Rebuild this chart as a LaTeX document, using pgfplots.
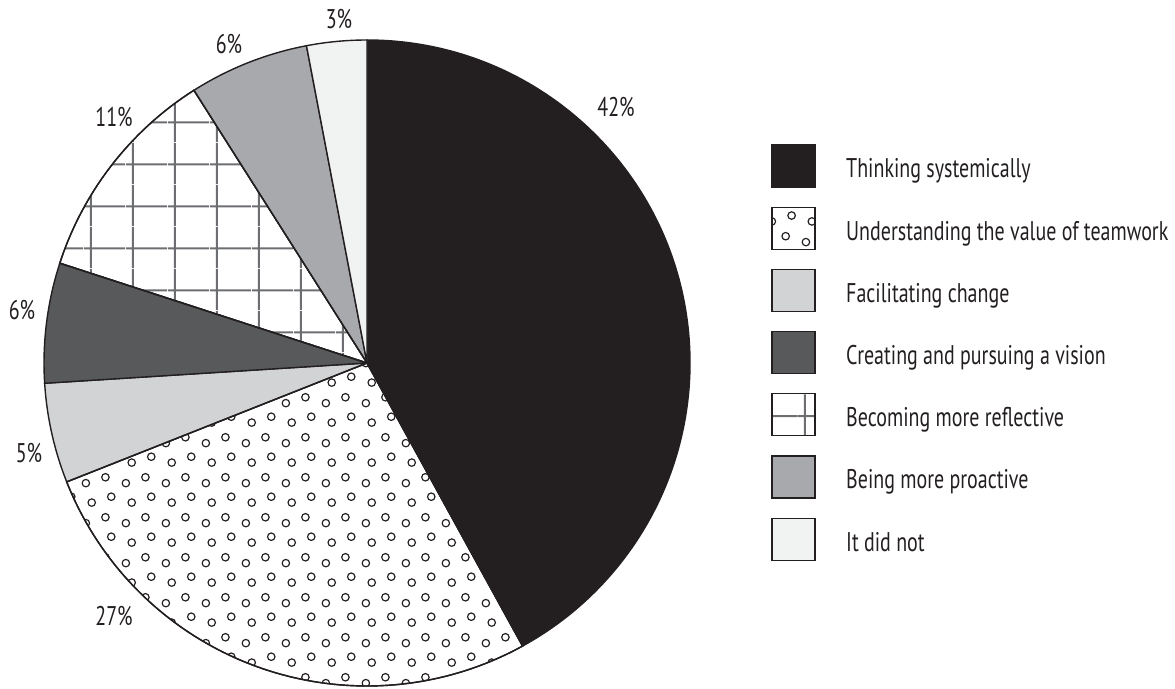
\documentclass[border=0pt]{standalone}
\usepackage{fontspec}
\setmainfont{PT Sans}[FakeStretch=0.74]
\usepackage{pgfplots}
\pgfplotsset{compat=1.18}
\usetikzlibrary{patterns}

\definecolor{ink}{HTML}{231F20}
\definecolor{cThink}{HTML}{231F20}
\definecolor{cFacil}{HTML}{D1D3D4}
\definecolor{cVision}{HTML}{58595B}
\definecolor{cProact}{HTML}{A7A9AC}
\definecolor{cNot}{HTML}{F1F2F2}
\definecolor{gridgray}{HTML}{6D6E71}

% small open circles, 40pt tile
\pgfdeclarepatternformonly{opendots}{\pgfpointorigin}{\pgfpoint{40pt}{40pt}}{\pgfpoint{40pt}{40pt}}{%
  \pgfsetlinewidth{1.2pt}%
  \pgfpathcircle{\pgfpoint{6pt}{6pt}}{3.8pt}%
  \pgfpathcircle{\pgfpoint{26pt}{12pt}}{3.8pt}%
  \pgfpathcircle{\pgfpoint{12pt}{27pt}}{3.8pt}%
  \pgfpathcircle{\pgfpoint{32pt}{33pt}}{3.8pt}%
  \pgfusepath{stroke}%
}
% square grid, 42pt cells
\pgfdeclarepatternformonly{grid42}{\pgfpointorigin}{\pgfpoint{42pt}{42pt}}{\pgfpoint{42pt}{42pt}}{%
  \pgfsetlinewidth{2pt}%
  \pgfpathmoveto{\pgfpoint{7pt}{0pt}}\pgfpathlineto{\pgfpoint{7pt}{42pt}}%
  \pgfpathmoveto{\pgfpoint{0pt}{20pt}}\pgfpathlineto{\pgfpoint{42pt}{20pt}}%
  \pgfusepath{stroke}%
}

% #1 cumulative percent before the slice, #2 percent, #3 style
\newcommand\slice[3]{%
  \draw[draw=ink, line width=1.4pt, #3] (axis cs:367,325)
    -- ++({90-3.6*(#1)}:323pt)
    arc[start angle={90-3.6*(#1)}, delta angle={-3.6*(#2)}, radius=323pt]
    -- cycle;}
% #1 row, #2 style, #3 text
\newcommand\legentry[3]{%
  \draw[draw=ink, line width=1.2pt, #2] (axis cs:772,{543-62.2*(#1)}) rectangle (axis cs:815,{501-62.2*(#1)});
  \node[anchor=base west, inner sep=0pt, text=ink] at (axis cs:846,{510-62.2*(#1)}) {#3};}

\begin{document}
\begin{tikzpicture}[font=\fontsize{27}{31}\selectfont]
\path[use as bounding box] (0,0) rectangle (1175pt,688pt);
\begin{axis}[
    at={(0,0)}, anchor=south west,
    scale only axis, width=1175pt, height=688pt,
    xmin=0, xmax=1175, ymin=0, ymax=688,
    enlargelimits=false, hide axis, clip=false,
]
\slice{0}{42}{fill=cThink}
\slice{42}{27}{fill=white, pattern=opendots, pattern color=ink}
\slice{69}{5}{fill=cFacil}
\slice{74}{6}{fill=cVision}
\slice{80}{11}{fill=white, pattern=grid42, pattern color=gridgray}
\slice{91}{6}{fill=cProact}
\slice{97}{3}{fill=cNot}
% redraw outlines of the patterned slices
\slice{42}{27}{}
\slice{80}{11}{}

\node[text=ink] at (axis cs:616,581) {42\%};
\node[text=ink] at (axis cs:114,72) {27\%};
\node[text=ink] at (axis cs:29,235) {5\%};
\node[text=ink] at (axis cs:22,378) {6\%};
\node[text=ink] at (axis cs:114,571) {11\%};
\node[text=ink] at (axis cs:229,643.5) {6\%};
\node[text=ink] at (axis cs:339,669) {3\%};

\legentry{0}{fill=cThink}{Thinking systemically}
\legentry{1}{pattern=opendots, pattern color=ink}{Understanding the value of teamwork}
\legentry{2}{fill=cFacil}{Facilitating change}
\legentry{3}{fill=cVision}{Creating and pursuing a vision}
\legentry{4}{pattern=grid42, pattern color=gridgray}{Becoming more reflective}
\legentry{5}{fill=cProact}{Being more proactive}
\legentry{6}{fill=cNot}{It did not}
\end{axis}
\end{tikzpicture}
\end{document}
